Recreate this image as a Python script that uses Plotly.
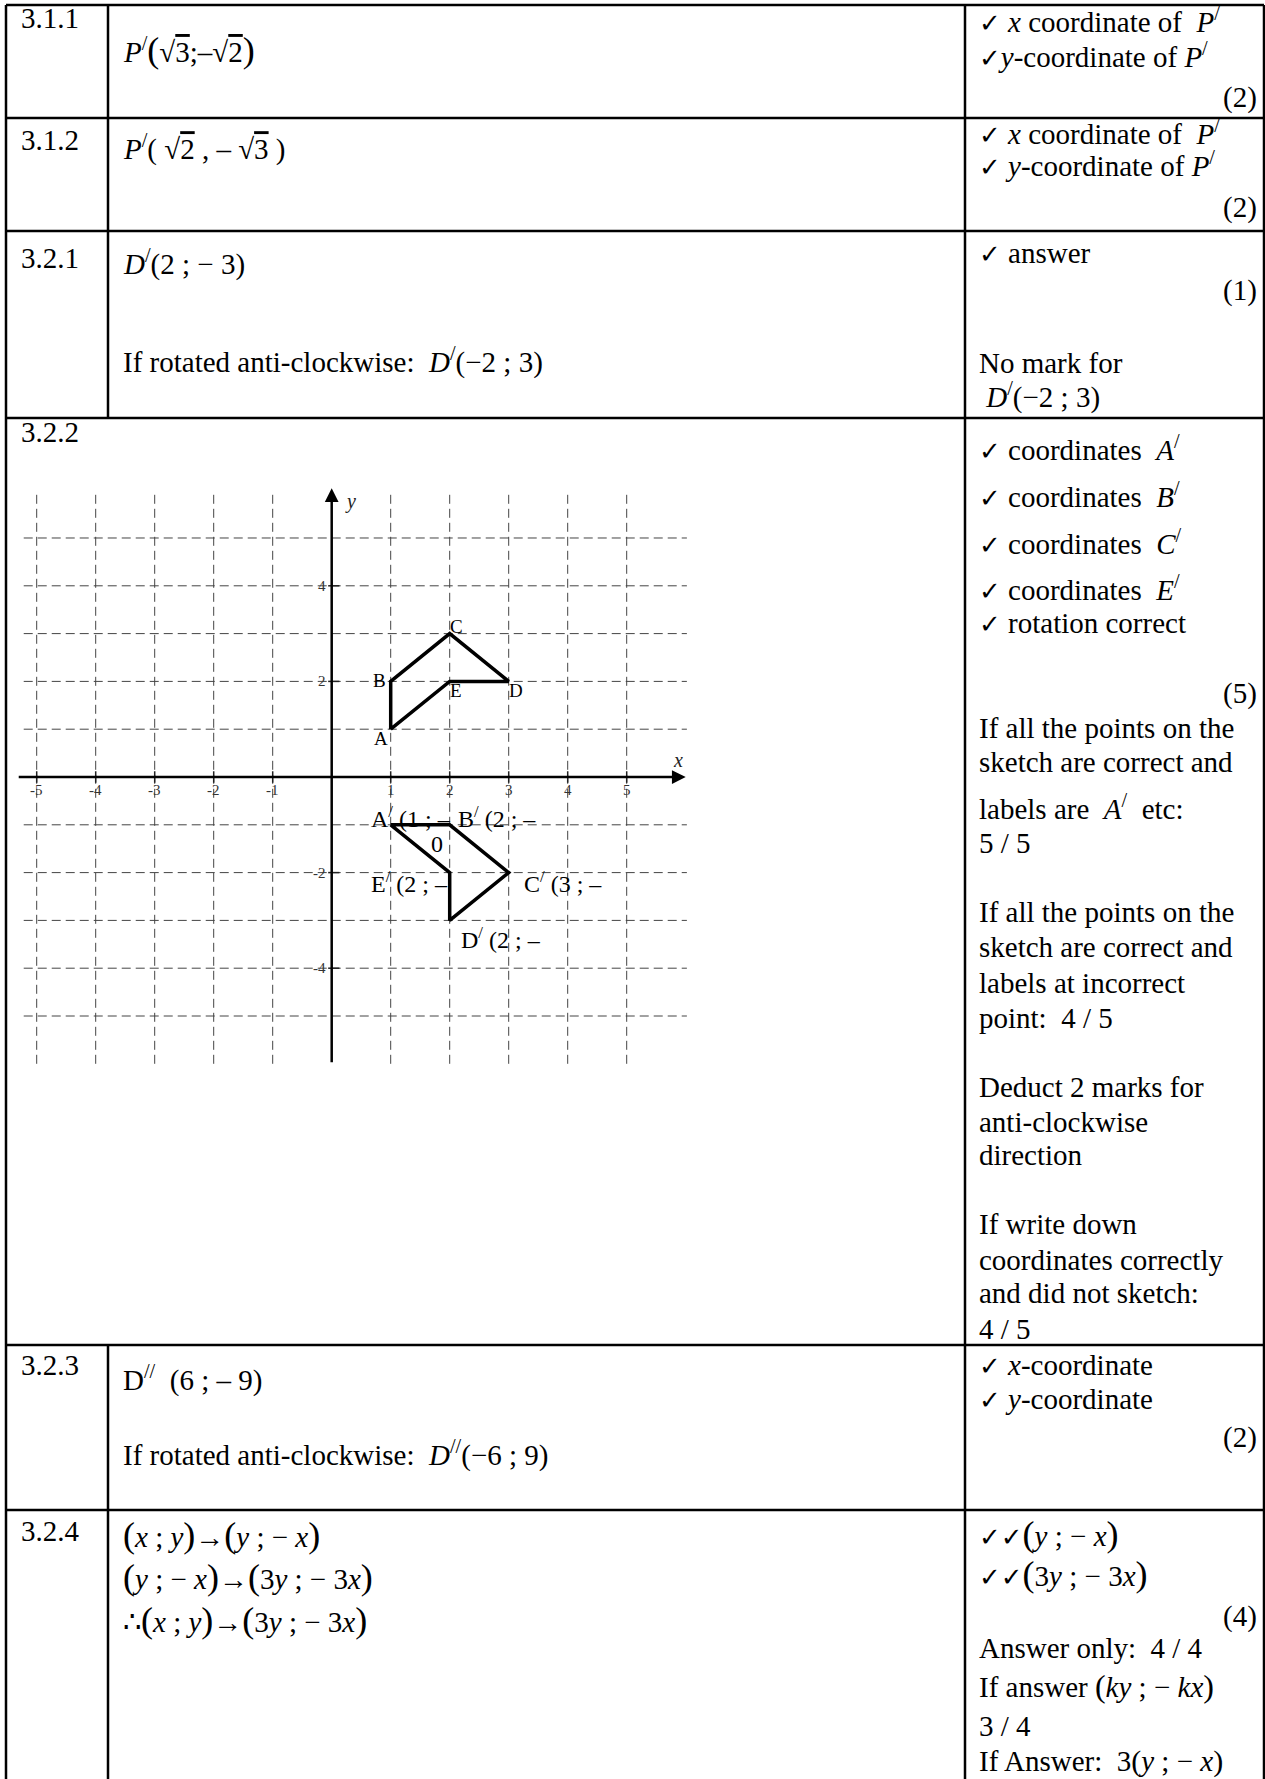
import plotly.graph_objects as go

W, H = 1265, 1779
SERIF = "Liberation Serif, Times New Roman, serif"
FS = 29  # body text size

# ========== sketch data (3.2.2: ABCDE rotated 90 deg clockwise) ==========
shape_names = ["A", "B", "C", "D", "E"]
shape_x = [1, 1, 2, 3, 2]
shape_y = [1, 2, 3, 2, 2]

image_names = ["A", "B", "C", "D", "E"]
image_x = [1, 2, 3, 2, 2]
image_y = [-1, -1, -2, -3, -2]
image_tags = ["(1 ; –", "(2 ; –", "(3 ; –", "(2 ; –", "(2 ; –"]

x_tick_vals = [-5, -4, -3, -2, -1, 1, 2, 3, 4, 5]
x_tick_text = ["-5", "-4", "-3", "-2", "-1", "1", "2", "3", "4", "5"]
y_tick_vals = [-4, -2, 2, 4]
y_tick_text = ["-4", "-2", "2", "4"]

grid_x = [-5, -4, -3, -2, -1, 1, 2, 3, 4, 5]
grid_y = [-5, -4, -3, -2, -1, 1, 2, 3, 4, 5]
grid_x_span = [-5.22, 6.02]
grid_y_span = [-6.0, 6.0]
axis_x_span = [-5.33, 6.0]
axis_y_span = [-6.0, 6.04]

# ========== memo text ==========
CHK = "<span style=\"font-family:'DejaVu Sans';font-size:26px\">✓</span>"
BP = lambda c, s=36: f"<span style=\"font-size:{s}px\">{c}</span>"  # big bracket
RT = lambda d: f"√<span style=\"text-decoration:overline\">{d}</span>"

col1_labels = ["3.1.1", "3.1.2", "3.2.1", "3.2.2", "3.2.3", "3.2.4"]
col1_y = [18, 140, 258, 432, 1365, 1531]

col2_lines = [
    "<i>P</i><sup>/</sup>" + BP("(") + RT("3") + ";–" + RT("2") + BP(")"),
    "<i>P</i><sup>/</sup>( " + RT("2") + " , – " + RT("3") + " )",
    "<i>D</i><sup>/</sup>(2 ; − 3)",
    "If rotated anti-clockwise:  <i>D</i><sup>/</sup>(−2 ; 3)",
    "D<sup>//</sup>  (6 ; – 9)",
    "If rotated anti-clockwise:  <i>D</i><sup>//</sup>(−6 ; 9)",
    BP("(") + "<i>x</i> ; <i>y</i>" + BP(")") + "→" + BP("(") + "<i>y</i> ; − <i>x</i>" + BP(")"),
    BP("(") + "<i>y</i> ; − <i>x</i>" + BP(")") + "→" + BP("(") + "3<i>y</i> ; − 3<i>x</i>" + BP(")"),
    "∴" + BP("(") + "<i>x</i> ; <i>y</i>" + BP(")") + "→" + BP("(") + "3<i>y</i> ; − 3<i>x</i>" + BP(")"),
]
col2_y = [50, 147, 263, 360, 1378, 1453, 1535, 1577, 1620]

col3_lines = [
    CHK + " <i>x</i> coordinate of  <i>P</i><sup>/</sup>",
    CHK + "<i>y</i>-coordinate of <i>P</i><sup>/</sup>",
    CHK + " <i>x</i> coordinate of  <i>P</i><sup>/</sup>",
    CHK + " <i>y</i>-coordinate of <i>P</i><sup>/</sup>",
    CHK + " answer",
    "No mark for",
    " <i>D</i><sup>/</sup>(−2 ; 3)",
    CHK + " coordinates  <i>A</i><sup>/</sup>",
    CHK + " coordinates  <i>B</i><sup>/</sup>",
    CHK + " coordinates  <i>C</i><sup>/</sup>",
    CHK + " coordinates  <i>E</i><sup>/</sup>",
    CHK + " rotation correct",
    "If all the points on the",
    "sketch are correct and",
    "labels are  <i>A</i><sup>/</sup>  etc:",
    "5 / 5",
    "If all the points on the",
    "sketch are correct and",
    "labels at incorrect",
    "point:  4 / 5",
    "Deduct 2 marks for",
    "anti-clockwise",
    "direction",
    "If write down",
    "coordinates correctly",
    "and did not sketch:",
    "4 / 5",
    CHK + " <i>x</i>-coordinate",
    CHK + " <i>y</i>-coordinate",
    CHK + CHK + BP("(") + "<i>y</i> ; − <i>x</i>" + BP(")"),
    CHK + CHK + BP("(") + "3<i>y</i> ; − 3<i>x</i>" + BP(")"),
    "Answer only:  4 / 4",
    "If answer " + BP("(", 32) + "<i>ky</i> ; − <i>kx</i>" + BP(")", 32),
    "3 / 4",
    "If Answer:  3" + BP("(", 30) + "<i>y</i> ; − <i>x</i>" + BP(")", 30),
]
col3_y = [20, 55, 132, 164, 253, 363, 395, 448, 495, 542, 588, 623,
          728, 762, 807, 843, 912, 947, 983, 1018, 1087, 1122, 1155,
          1224, 1260, 1293, 1329, 1365, 1399, 1534, 1574, 1648, 1686, 1726, 1761]

marks = ["(2)", "(2)", "(1)", "(5)", "(2)", "(4)"]
marks_y = [97, 208, 290, 693, 1437, 1616]

# table rules (pixels)
H_RULES = [5, 118, 231, 418, 1345, 1510]
X_LEFT, X_C1, X_C2, X_RIGHT = 6, 108, 965, 1264


def px(x):
    return x / W


def py(y):
    return 1 - y / H


# pixel mapping of the sketch: origin (331.7, 777), 59 px per x unit, 47.8 px per y unit
OX, OY, UX, UY = 331.7, 777.0, 59.0, 47.8
XR = [-5.5, 6.3]
YR = [-6.3, 6.3]

fig = go.Figure()

# grid
gx, gy = [], []
for v in grid_x:
    gx += [v, v, None]
    gy += [grid_y_span[0], grid_y_span[1], None]
for v in grid_y:
    gx += [grid_x_span[0], grid_x_span[1], None]
    gy += [v, v, None]
fig.add_trace(go.Scatter(x=gx, y=gy, mode="lines",
                         line=dict(color="#444", width=1, dash="9px,5px"),
                         hoverinfo="skip"))

# tick marks
tx, ty = [], []
for v in x_tick_vals:
    tx += [v, v, None]
    ty += [-0.12, 0.12, None]
for v in y_tick_vals:
    tx += [-0.06, 0.13, None]
    ty += [v, v, None]
fig.add_trace(go.Scatter(x=tx, y=ty, mode="lines",
                         line=dict(color="#222", width=1.5), hoverinfo="skip"))

# original shape and its image
fig.add_trace(go.Scatter(x=shape_x + shape_x[:1], y=shape_y + shape_y[:1], mode="lines",
                         line=dict(color="black", width=3.5), hoverinfo="skip"))
fig.add_trace(go.Scatter(x=image_x + image_x[:1], y=image_y + image_y[:1], mode="lines",
                         line=dict(color="black", width=3.5), hoverinfo="skip"))

ann = []

# axes with arrow heads
ann.append(dict(x=axis_x_span[1], y=0, ax=axis_x_span[0], ay=0, xref="x", yref="y",
                axref="x", ayref="y", text="", showarrow=True, arrowhead=2,
                arrowsize=1.1, arrowwidth=2.5, arrowcolor="black"))
ann.append(dict(x=0, y=axis_y_span[1], ax=0, ay=axis_y_span[0], xref="x", yref="y",
                axref="x", ayref="y", text="", showarrow=True, arrowhead=2,
                arrowsize=1.1, arrowwidth=2.5, arrowcolor="black"))

tick_font = dict(family=SERIF, size=15, color="#333")
for v, t in zip(x_tick_vals, x_tick_text):
    ann.append(dict(x=v, y=0, xref="x", yref="y", text=t, showarrow=False,
                    yshift=-13, font=tick_font))
for v, t in zip(y_tick_vals, y_tick_text):
    ann.append(dict(x=0, y=v, xref="x", yref="y", text=t, showarrow=False,
                    xanchor="right", xshift=-4, font=tick_font))

ann.append(dict(x=0, y=axis_y_span[1], xref="x", yref="y", text="<i>y</i>", showarrow=False,
                xshift=19, yshift=-13, font=dict(family=SERIF, size=20, color="#222")))
ann.append(dict(x=axis_x_span[1], y=0, xref="x", yref="y", text="<i>x</i>", showarrow=False,
                xshift=-8, yshift=17, font=dict(family=SERIF, size=20, color="#222")))

# vertex labels of ABCDE
shape_off = {"A": (-10, -9), "B": (-11, 1), "C": (7, 7), "D": (7, -9), "E": (6, -9)}
for n, x, y in zip(shape_names, shape_x, shape_y):
    dx, dy = shape_off[n]
    ann.append(dict(x=x, y=y, xref="x", yref="y", text=n, showarrow=False,
                    xshift=dx, yshift=dy, font=dict(family=SERIF, size=19, color="black")))

# labels of the image
image_off = {"A": (-22, 8), "B": (6, 8), "C": (13, -9), "D": (9, -18), "E": (-81, -9)}
for n, x, y, tag in zip(image_names, image_x, image_y, image_tags):
    dx, dy = image_off[n]
    ann.append(dict(x=x, y=y, xref="x", yref="y", text=f"{n}<sup>/</sup> {tag}",
                    showarrow=False, xanchor="left", xshift=dx, yshift=dy,
                    font=dict(family=SERIF, size=24, color="black")))
ann.append(dict(x=image_x[0], y=image_y[0], xref="x", yref="y", text="0", showarrow=False,
                xshift=46, yshift=-19, font=dict(family=SERIF, size=24, color="black")))

# memo table text
body = dict(family=SERIF, size=FS, color="black")
for t, y in zip(col1_labels, col1_y):
    ann.append(dict(x=px(19), y=py(y), xref="paper", yref="paper", text=t, showarrow=False,
                    xanchor="left", yanchor="middle", font=body))
for t, y in zip(col2_lines, col2_y):
    ann.append(dict(x=px(121), y=py(y), xref="paper", yref="paper", text=t, showarrow=False,
                    xanchor="left", yanchor="middle", font=body))
for t, y in zip(col3_lines, col3_y):
    ann.append(dict(x=px(977), y=py(y), xref="paper", yref="paper", text=t, showarrow=False,
                    xanchor="left", yanchor="middle", font=body))
for t, y in zip(marks, marks_y):
    ann.append(dict(x=px(1259), y=py(y), xref="paper", yref="paper", text=t, showarrow=False,
                    xanchor="right", yanchor="middle", font=body))

# table rules
shapes = []
rule = dict(color="black", width=2.5)
for y in H_RULES:
    shapes.append(dict(type="line", xref="paper", yref="paper", x0=px(X_LEFT), x1=px(X_RIGHT),
                       y0=py(y), y1=py(y), line=rule))
for x in (X_LEFT, X_C2, X_RIGHT):
    shapes.append(dict(type="line", xref="paper", yref="paper", x0=px(x), x1=px(x),
                       y0=py(H_RULES[0]), y1=py(H), line=rule))
# first column divider is absent in the merged 3.2.2 row
for y0, y1 in ((H_RULES[0], H_RULES[3]), (H_RULES[4], H)):
    shapes.append(dict(type="line", xref="paper", yref="paper", x0=px(X_C1), x1=px(X_C1),
                       y0=py(y0), y1=py(y1), line=rule))

fig.update_layout(
    width=W, height=H,
    margin=dict(l=0, r=0, t=0, b=0),
    paper_bgcolor="white", plot_bgcolor="white",
    showlegend=False,
    annotations=ann, shapes=shapes,
    xaxis=dict(range=XR, visible=False, fixedrange=True,
               domain=[px(OX + XR[0] * UX), px(OX + XR[1] * UX)]),
    yaxis=dict(range=YR, visible=False, fixedrange=True,
               domain=[py(OY - YR[0] * UY), py(OY - YR[1] * UY)]),
)

fig.write_html("out.html", config={"displayModeBar": False},
               post_script="document.body.style.margin='0';")
